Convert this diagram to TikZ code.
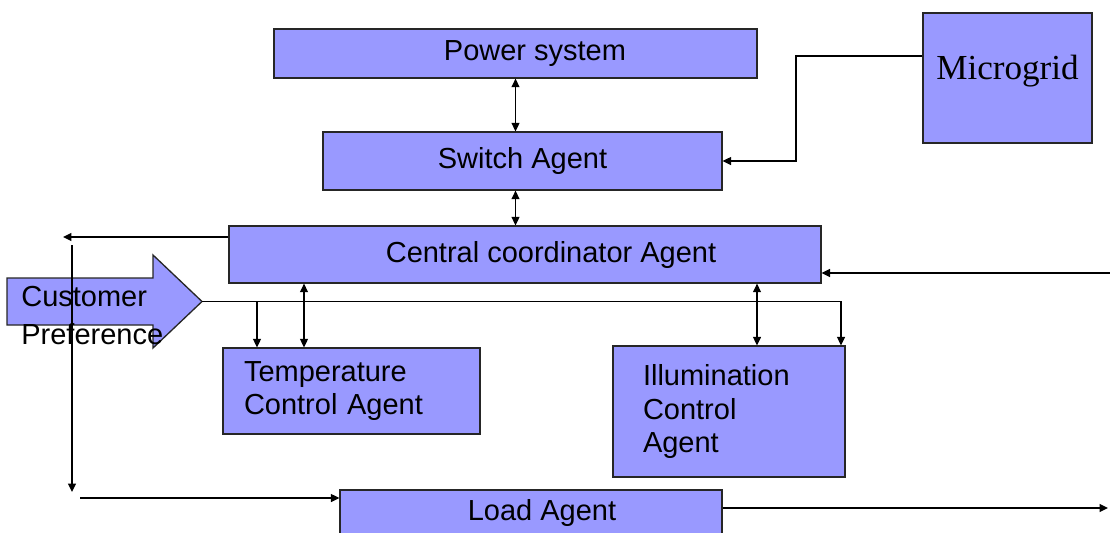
\documentclass[tikz,border=0pt]{standalone}
\usepackage{fontspec}
\setmainfont{Liberation Sans}
\newfontfamily\mgfont{Liberation Serif}
\usetikzlibrary{arrows.meta}
\definecolor{agentblue}{RGB}{153,153,255}

\begin{document}
\begin{tikzpicture}[x=0.02cm,y=-0.02cm]
    \tikzstyle{agent}=[draw=black!85,fill=agentblue,line width=0.75pt,inner sep=0pt,font=\fontsize{16.5}{19.5}\selectfont]
    \tikzstyle{link}=[line width=0.75pt,-{Triangle[length=1.7mm,width=1.6mm]}]
    \tikzstyle{dlink}=[line width=0.75pt,{Triangle[length=1.7mm,width=1.6mm]}-{Triangle[length=1.7mm,width=1.6mm]}]
    \useasboundingbox (0,0) rectangle (1110,532);
    \node[agent,minimum width=9.66cm,minimum height=0.98cm] (power) at (515.5,53.5) {\hspace*{0.78cm}Power system};
    \node[agent,minimum width=7.98cm,minimum height=1.16cm] (switch) at (522.5,161) {Switch Agent};
    \node[agent,minimum width=3.38cm,minimum height=2.6cm,text depth=0.44cm,font=\mgfont\fontsize{20}{24}\selectfont] (micro) at (1007.5,78) {Microgrid};
    \node[agent,minimum width=11.84cm,minimum height=1.14cm] (central) at (525,254.5) {\hspace*{1.04cm}Central coordinator Agent};
    \node[agent,minimum width=5.14cm,minimum height=1.72cm,inner xsep=0.42cm,text width=4.3cm,align=left,font=\fontsize{16.5}{18.8}\selectfont] (temp) at (351.5,391) {Temperature\\Control Agent};
    \node[agent,minimum width=4.64cm,minimum height=2.62cm,inner xsep=0.6cm,text width=3.44cm,align=left,font=\fontsize{16.5}{19.3}\selectfont] (illum) at (729,411.5) {Illumination\\Control\\Agent};
    \node[agent,minimum width=7.64cm,minimum height=0.92cm] (load) at (531,513) {\hspace*{0.44cm}Load Agent};
    \draw[draw=black!85,fill=agentblue,line width=0.75pt] (7,278) -- (153,278) -- (153,255) -- (202,301.5) -- (153,348) -- (153,325) -- (7,325) -- cycle;
    \coordinate (preftip) at (202,301.5);
    \coordinate (fbtop) at (72,245);
    \coordinate (fbbot) at (72,492);
    \draw[link] (fbtop) -- (fbbot);
    \node[anchor=north west,align=left,inner sep=0pt,font=\fontsize{16.5}{21.6}\selectfont] (pref) at (21,286) {Customer\\Preference};
    \draw[dlink] (power.south) -- (power.south |- switch.north);
    \draw[dlink] (switch.south -| power.south) -- (central.north -| power.south);
    \coordinate (mgbend) at (796,0);
    \draw[link] ([yshift=0.44cm]micro.west) -| (mgbend |- switch.east) -- (switch.east);
    \coordinate (rightin) at (1110,273);
    \draw[link] (rightin) -- (rightin -| central.east);
    \coordinate (leftout) at (63,237);
    \draw[link] (leftout -| central.west) -- (leftout);
    \coordinate (loadin) at (80,498);
    \draw[link] (loadin) -- (loadin -| load.west);
    \coordinate (loadout) at (1108,508);
    \draw[link] (loadout -| load.east) -- (loadout);
    \coordinate (busend) at (841,0);
    \draw[link] (preftip) -| (busend |- illum.north);
    \coordinate (tdrop) at (257,0);
    \draw[link] (tdrop |- preftip) -- (tdrop |- temp.north);
    \coordinate (tlink) at (304,0);
    \draw[dlink] (tlink |- central.south) -- (tlink |- temp.north);
    \coordinate (ilink) at (757,0);
    \draw[dlink] (ilink |- central.south) -- (ilink |- illum.north);
\end{tikzpicture}
\end{document}
